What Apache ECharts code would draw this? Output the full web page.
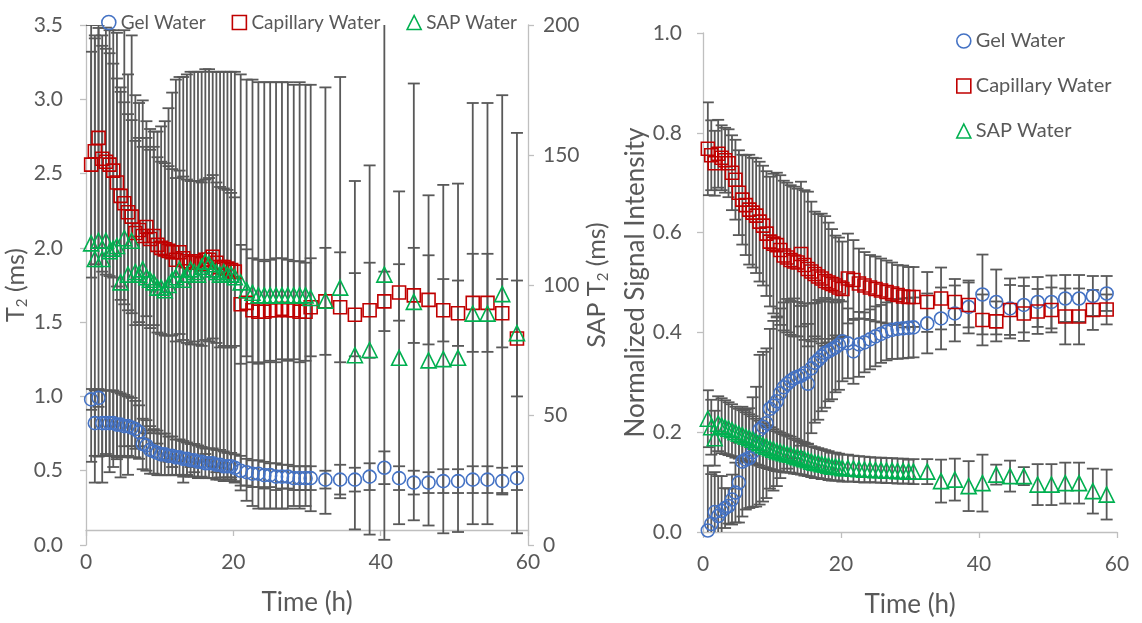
<!DOCTYPE html>
<html>
<head>
<meta charset="utf-8">
<script src="https://cdn.jsdelivr.net/npm/echarts@6/dist/echarts.min.js"></script>
<style>
  html, body { margin: 0; padding: 0; background: #ffffff; }
  #chart { width: 1142px; height: 623px; }
</style>
</head>
<body>
<div id="chart"></div>
<script>
// Sampling times (h)
const TIME = [
  0.7, 1.2, 1.7, 2.2, 2.7, 3.2, 3.7, 4.2, 4.7, 5.2,
  5.7, 6.2, 6.7, 7.2, 7.7, 8.2, 8.7, 9.2, 9.7, 10.2,
  10.7, 11.2, 11.7, 12.2, 12.7, 13.2, 13.7, 14.2, 14.7, 15.2,
  15.7, 16.2, 16.7, 17.2, 17.7, 18.2, 18.7, 19.2, 19.7, 20.2,
  21.0, 21.8, 22.6, 23.4, 24.2, 25.0, 25.8, 26.6, 27.4, 28.2, 29.0, 29.8, 30.5,
  32.5, 34.5, 36.5, 38.5, 40.5, 42.5, 44.5, 46.5, 48.5, 50.5, 52.5, 54.5, 56.5, 58.5
];
const X_TICKS = [0, 20, 40, 60];
const SERIES_NAMES = ['Gel Water', 'Capillary Water', 'SAP Water'];

// T2 relaxation times (ms) with standard deviations
const GEL_T2 = [
  0.98, 0.82, 0.99, 0.82, 0.82, 0.82, 0.82, 0.81, 0.81, 0.80,
  0.80, 0.79, 0.78, 0.76, 0.68, 0.67, 0.64, 0.63, 0.62, 0.61,
  0.61, 0.60, 0.60, 0.59, 0.59, 0.58, 0.58, 0.57, 0.57, 0.56,
  0.56, 0.55, 0.55, 0.55, 0.54, 0.54, 0.53, 0.53, 0.53, 0.52,
  0.50, 0.49, 0.48, 0.48, 0.47, 0.47, 0.46, 0.46, 0.46, 0.45, 0.45, 0.45, 0.45,
  0.44, 0.44, 0.44, 0.46, 0.52, 0.45, 0.42, 0.42, 0.43, 0.43, 0.44, 0.44, 0.43, 0.45
];
const GEL_T2_ERR = [
  0.07, 0.22, 0.06, 0.22, 0.22, 0.22, 0.22, 0.22, 0.21, 0.21,
  0.20, 0.20, 0.19, 0.18, 0.17, 0.17, 0.16, 0.15, 0.15, 0.14,
  0.14, 0.13, 0.13, 0.12, 0.12, 0.12, 0.11, 0.11, 0.11, 0.11,
  0.10, 0.10, 0.10, 0.10, 0.10, 0.10, 0.10, 0.09, 0.09, 0.09,
  0.10, 0.09, 0.09, 0.09, 0.09, 0.08, 0.09, 0.08, 0.08, 0.08, 0.08, 0.08, 0.08,
  0.06, 0.10, 0.08, 0.09, 0.11, 0.08, 0.08, 0.07, 0.08, 0.08, 0.09, 0.09, 0.09, 0.08
];
const CAP_T2 = [
  2.56, 2.65, 2.74, 2.60, 2.58, 2.56, 2.52, 2.44, 2.35, 2.30,
  2.24, 2.21, 2.10, 2.12, 2.08, 2.14, 2.06, 2.08, 2.02, 2.00,
  1.99, 1.98, 1.97, 1.92, 1.97, 1.93, 1.91, 1.90, 1.91, 1.90,
  1.89, 1.92, 1.92, 1.94, 1.90, 1.87, 1.87, 1.86, 1.85, 1.84,
  1.62, 1.63, 1.58, 1.57, 1.57, 1.58, 1.58, 1.59, 1.58, 1.58, 1.57, 1.57, 1.60,
  1.64, 1.60, 1.55, 1.58, 1.64, 1.70, 1.68, 1.65, 1.58, 1.56, 1.63, 1.63, 1.56, 1.39
];
const CAP_T2_ERR = [
  0.76, 0.76, 0.74, 0.76, 0.76, 0.75, 0.72, 0.70, 0.70, 0.68,
  0.66, 0.65, 0.62, 0.62, 0.60, 0.60, 0.60, 0.60, 0.59, 0.58,
  0.58, 0.57, 0.56, 0.55, 0.55, 0.55, 0.55, 0.55, 0.54, 0.55,
  0.55, 0.54, 0.55, 0.55, 0.54, 0.54, 0.53, 0.53, 0.52, 0.50,
  0.40, 0.36, 0.35, 0.35, 0.34, 0.34, 0.35, 0.34, 0.34, 0.33, 0.34, 0.33, 0.33,
  0.36, 0.37, 0.28, 0.32, 0.20, 0.19, 0.32, 0.30, 0.21, 0.22, 0.33, 0.33, 0.23, 0.39
];
const SAP_T2 = [
  116, 110, 117, 110, 117, 113, 114, 115, 101, 118,
  104, 117, 105, 104, 106, 103, 102, 101, 99, 99,
  98, 100, 102, 103, 106, 102, 104, 106, 105, 104,
  107, 109, 108, 106, 105, 104, 105, 104, 104, 103,
  101, 98, 97, 96, 96, 96, 96, 96, 96, 96, 96, 96, 95,
  94, 99, 73, 75, 104, 72, 93.5, 71, 71.5, 72, 89, 89, 96.5, 81.5
];
const SAP_T2_ERR = [
  84, 86, 83, 86, 82, 85, 84, 82, 75, 80,
  77, 79, 68, 66, 65, 60, 58, 58, 60, 62,
  65, 68, 72, 76, 74, 78, 77, 76, 77, 78,
  75, 74, 75, 76, 77, 78, 77, 78, 78, 79,
  80, 81, 82, 82, 82, 82, 82, 82, 82, 81, 82, 81, 82,
  82, 81, 67, 71, 102, 64, 84, 63.5, 67, 67, 81, 81, 76.5, 77
];

// Normalized signal intensity with standard deviations
const GEL_SI = [
  0.003, 0.016, 0.040, 0.032, 0.042, 0.048, 0.052, 0.065, 0.079, 0.099,
  0.141, 0.145, 0.148, 0.160, 0.171, 0.205, 0.211, 0.218, 0.247, 0.253,
  0.262, 0.278, 0.290, 0.297, 0.303, 0.308, 0.311, 0.313, 0.318, 0.297,
  0.328, 0.339, 0.345, 0.352, 0.359, 0.362, 0.366, 0.370, 0.375, 0.382,
  0.378, 0.362, 0.376, 0.380, 0.386, 0.392, 0.397, 0.402, 0.405, 0.407, 0.408, 0.409, 0.410,
  0.418, 0.428, 0.438, 0.451, 0.476, 0.461, 0.448, 0.455, 0.461, 0.461, 0.468, 0.468, 0.473, 0.478
];
const GEL_SI_ERR = [
  0.13, 0.10, 0.08, 0.08, 0.07, 0.04, 0.035, 0.05, 0.06, 0.08,
  0.11, 0.10, 0.10, 0.11, 0.12, 0.15, 0.15, 0.15, 0.16, 0.17,
  0.17, 0.17, 0.17, 0.17, 0.16, 0.16, 0.15, 0.14, 0.14, 0.12,
  0.13, 0.12, 0.12, 0.11, 0.11, 0.10, 0.10, 0.09, 0.09, 0.08,
  0.070, 0.065, 0.065, 0.060, 0.060, 0.060, 0.058, 0.058, 0.058, 0.060, 0.060, 0.060, 0.060,
  0.060, 0.062, 0.056, 0.053, 0.080, 0.065, 0.060, 0.055, 0.050, 0.053, 0.047, 0.047, 0.040, 0.035
];
const CAP_SI = [
  0.768, 0.755, 0.739, 0.758, 0.750, 0.745, 0.739, 0.720, 0.706, 0.680,
  0.666, 0.655, 0.646, 0.640, 0.634, 0.622, 0.614, 0.598, 0.582, 0.578,
  0.575, 0.565, 0.554, 0.550, 0.545, 0.542, 0.540, 0.557, 0.535, 0.527,
  0.522, 0.517, 0.512, 0.508, 0.503, 0.500, 0.497, 0.494, 0.490, 0.487,
  0.508, 0.505, 0.498, 0.494, 0.490, 0.487, 0.484, 0.481, 0.478, 0.475, 0.472, 0.471, 0.471,
  0.461, 0.468, 0.461, 0.455, 0.425, 0.422, 0.445, 0.438, 0.442, 0.445, 0.432, 0.432, 0.445, 0.446
];
const CAP_SI_ERR = [
  0.093, 0.070, 0.065, 0.068, 0.065, 0.065, 0.068, 0.075, 0.080, 0.085,
  0.090, 0.100, 0.110, 0.110, 0.115, 0.120, 0.120, 0.125, 0.130, 0.140,
  0.145, 0.150, 0.150, 0.150, 0.150, 0.150, 0.148, 0.145, 0.150, 0.155,
  0.140, 0.125, 0.125, 0.130, 0.130, 0.120, 0.110, 0.100, 0.100, 0.095,
  0.090, 0.080, 0.070, 0.067, 0.065, 0.065, 0.064, 0.063, 0.062, 0.060, 0.062, 0.060, 0.060,
  0.060, 0.062, 0.046, 0.045, 0.051, 0.040, 0.050, 0.055, 0.045, 0.045, 0.056, 0.056, 0.040, 0.030
];
const SAP_SI = [
  0.227, 0.210, 0.188, 0.217, 0.213, 0.210, 0.207, 0.204, 0.200, 0.197,
  0.194, 0.191, 0.188, 0.185, 0.181, 0.178, 0.174, 0.171, 0.168, 0.165,
  0.162, 0.160, 0.158, 0.156, 0.155, 0.152, 0.150, 0.148, 0.146, 0.144,
  0.141, 0.139, 0.138, 0.136, 0.135, 0.133, 0.131, 0.131, 0.130, 0.128,
  0.128, 0.127, 0.126, 0.125, 0.125, 0.124, 0.124, 0.123, 0.123, 0.122, 0.122, 0.121, 0.121,
  0.121, 0.102, 0.105, 0.092, 0.098, 0.115, 0.112, 0.112, 0.095, 0.095, 0.098, 0.098, 0.082, 0.075
];
const SAP_SI_ERR = [
  0.057, 0.055, 0.055, 0.055, 0.055, 0.054, 0.053, 0.052, 0.051, 0.050,
  0.050, 0.049, 0.048, 0.047, 0.046, 0.045, 0.044, 0.043, 0.042, 0.041,
  0.040, 0.039, 0.038, 0.037, 0.036, 0.035, 0.034, 0.033, 0.033, 0.032,
  0.031, 0.031, 0.030, 0.030, 0.029, 0.029, 0.028, 0.028, 0.027, 0.027,
  0.027, 0.026, 0.026, 0.026, 0.025, 0.025, 0.025, 0.025, 0.025, 0.025, 0.025, 0.024, 0.025,
  0.025, 0.043, 0.042, 0.050, 0.057, 0.020, 0.031, 0.018, 0.041, 0.041, 0.041, 0.041, 0.045, 0.050
];

const FONT = 'Lato, "Open Sans", sans-serif';
const TEXT = '#595959';
const AXIS = '#BFBFBF';
const BAR = '#595959';
const COLORS = ['#4472C4', '#C00000', '#00B050'];
const SYMBOLS = ['circle', 'rect', 'triangle'];
const SIZES = [13, 13, 15];

function points(vals) {
  return TIME.map((t, i) => [t, vals[i]]);
}
function spans(vals, errs) {
  return TIME.map((t, i) => [t, vals[i] - errs[i], vals[i] + errs[i]]);
}

// vertical error bar with caps
function renderBar(params, api) {
  const x = api.value(0);
  const lo = api.coord([x, api.value(1)]);
  const hi = api.coord([x, api.value(2)]);
  const w = 6;
  const style = { stroke: BAR, lineWidth: 1.8 };
  return {
    type: 'group',
    children: [
      { type: 'line', shape: { x1: lo[0], y1: lo[1], x2: hi[0], y2: hi[1] }, style },
      { type: 'line', shape: { x1: lo[0] - w, y1: lo[1], x2: lo[0] + w, y2: lo[1] }, style },
      { type: 'line', shape: { x1: hi[0] - w, y1: hi[1], x2: hi[0] + w, y2: hi[1] }, style }
    ]
  };
}

function barSeries(vals, errs, xi, yi) {
  return {
    type: 'custom', xAxisIndex: xi, yAxisIndex: yi, clip: true, silent: true,
    renderItem: renderBar, data: spans(vals, errs),
    encode: { x: 0, y: [1, 2] }
  };
}
function markerSeries(k, vals, xi, yi) {
  return {
    type: 'scatter', name: SERIES_NAMES[k], xAxisIndex: xi, yAxisIndex: yi,
    symbol: SYMBOLS[k], symbolSize: SIZES[k], silent: true,
    itemStyle: { color: 'rgba(255,255,255,0)', borderColor: COLORS[k], borderWidth: 1.6, opacity: 1 },
    data: points(vals)
  };
}

const legendItems = SERIES_NAMES.map((n, k) => ({
  name: n, icon: SYMBOLS[k],
  itemStyle: { color: 'rgba(255,255,255,0)', borderColor: COLORS[k], borderWidth: 1.6 }
}));

const label = { color: TEXT, fontFamily: FONT, fontSize: 21 };
const nameStyle = { color: TEXT, fontFamily: FONT, fontSize: 26 };
const line = { show: true, lineStyle: { color: AXIS, width: 1.3 } };
const tick = { show: true, length: 6, lineStyle: { color: AXIS, width: 1.3 } };
const t2Rich = {
  n: { color: TEXT, fontFamily: FONT, fontSize: 25 },
  s: { color: TEXT, fontFamily: FONT, fontSize: 15, padding: [13, 0, 0, 0] }
};

const chart = echarts.init(document.getElementById('chart'), null, { renderer: 'canvas' });
chart.setOption({
  animation: false,
  backgroundColor: '#ffffff',
  grid: [
    { left: 86, top: 25, width: 442, height: 520 },
    { left: 703, top: 33, width: 414, height: 505 }
  ],
  legend: [
    {
      data: legendItems, left: 96, top: 8, orient: 'horizontal',
      itemWidth: 14, itemHeight: 14, itemGap: 26, selectedMode: false,
      textStyle: { color: TEXT, fontFamily: FONT, fontSize: 19 }
    },
    {
      data: legendItems, left: 951, top: 26, orient: 'vertical',
      itemWidth: 14, itemHeight: 14, itemGap: 25, selectedMode: false,
      textStyle: { color: TEXT, fontFamily: FONT, fontSize: 20 }
    }
  ],
  xAxis: [
    {
      type: 'value', gridIndex: 0, min: X_TICKS[0], max: X_TICKS[X_TICKS.length - 1], interval: 20,
      offset: -15, axisLine: line, axisTick: tick, splitLine: { show: false },
      axisLabel: Object.assign({ margin: 22 }, label),
      name: 'Time (h)', nameLocation: 'middle', nameGap: 60, nameTextStyle: nameStyle
    },
    {
      type: 'value', gridIndex: 1, min: X_TICKS[0], max: X_TICKS[X_TICKS.length - 1], interval: 20,
      axisLine: line, axisTick: tick, splitLine: { show: false },
      axisLabel: Object.assign({ margin: 22 }, label),
      name: 'Time (h)', nameLocation: 'middle', nameGap: 60, nameTextStyle: nameStyle
    }
  ],
  yAxis: [
    {
      type: 'value', gridIndex: 0, min: 0, max: 3.5, interval: 0.5, position: 'left',
      axisLine: line, axisTick: tick, splitLine: { show: false },
      axisLabel: Object.assign({ margin: 23, formatter: v => v.toFixed(1) }, label),
      name: '{n|T}{s|2}{n| (ms)}', nameLocation: 'middle', nameRotate: 90, nameGap: 51,
      nameTextStyle: { rich: t2Rich }
    },
    {
      type: 'value', gridIndex: 0, min: 0, max: 200, interval: 50, position: 'right',
      axisLine: line, axisTick: tick, splitLine: { show: false },
      axisLabel: Object.assign({ margin: 15 }, label),
      name: '{n|SAP T}{s|2}{n| (ms)}', nameLocation: 'middle', nameRotate: 90, nameGap: 55,
      nameTextStyle: { rich: t2Rich }
    },
    {
      type: 'value', gridIndex: 1, min: 0, max: 1.0, interval: 0.2, position: 'left',
      axisLine: line, axisTick: tick, splitLine: { show: false },
      axisLabel: Object.assign({ margin: 21, formatter: v => v.toFixed(1) }, label),
      name: 'Normalized Signal Intensity', nameLocation: 'middle', nameRotate: 90, nameGap: 42,
      nameTextStyle: nameStyle
    }
  ],
  series: [
    barSeries(GEL_T2, GEL_T2_ERR, 0, 0), markerSeries(0, GEL_T2, 0, 0),
    barSeries(CAP_T2, CAP_T2_ERR, 0, 0), markerSeries(1, CAP_T2, 0, 0),
    barSeries(SAP_T2, SAP_T2_ERR, 0, 1), markerSeries(2, SAP_T2, 0, 1),
    barSeries(GEL_SI, GEL_SI_ERR, 1, 2), markerSeries(0, GEL_SI, 1, 2),
    barSeries(CAP_SI, CAP_SI_ERR, 1, 2), markerSeries(1, CAP_SI, 1, 2),
    barSeries(SAP_SI, SAP_SI_ERR, 1, 2), markerSeries(2, SAP_SI, 1, 2)
  ]
});
</script>
</body>
</html>
